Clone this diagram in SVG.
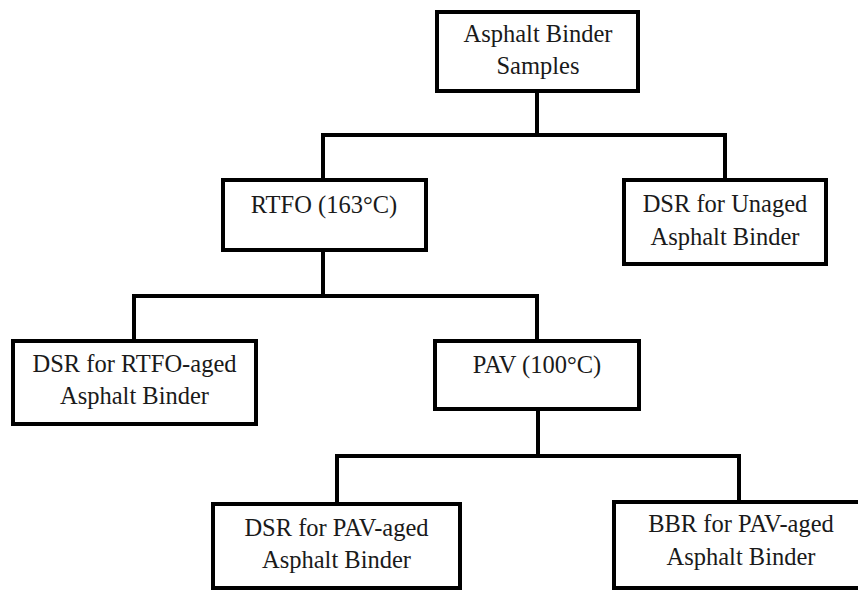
<svg xmlns="http://www.w3.org/2000/svg" width="858" height="590" viewBox="0 0 858 590">
<style>
.box{fill:#fff;stroke:#000;stroke-width:4}
.ln{fill:none;stroke:#000;stroke-width:4;stroke-linejoin:miter;stroke-linecap:square}
.t{font-family:'Liberation Serif','Times New Roman',Tinos,'DejaVu Serif',serif;font-size:24.5px;fill:#1a1a1a;text-anchor:middle}
</style>
<rect width="858" height="590" fill="#fff"/>
<g id="connectors">
<path class="ln" d="M537,92 V135 M323,179 V135 H725 V179"/>
<path class="ln" d="M323,251 V296 M134,340 V296 H537 V340"/>
<path class="ln" d="M538,410 V456 M337,502 V456 H739 V502"/>
</g>
<g id="n-samples">
<rect class="box" x="437" y="12" width="201" height="79"/>
<text class="t" x="538" y="42">Asphalt Binder</text>
<text class="t" x="538" y="74">Samples</text>
</g>
<g id="n-rtfo">
<rect class="box" x="223" y="180" width="203" height="70"/>
<text class="t" x="324" y="213">RTFO (163°C)</text>
</g>
<g id="n-dsr-unaged">
<rect class="box" x="624" y="180" width="202" height="84"/>
<text class="t" x="725" y="212">DSR for Unaged</text>
<text class="t" x="725" y="245">Asphalt Binder</text>
</g>
<g id="n-dsr-rtfo">
<rect class="box" x="13" y="341" width="243" height="83"/>
<text class="t" x="134.5" y="372">DSR for RTFO-aged</text>
<text class="t" x="134.5" y="404">Asphalt Binder</text>
</g>
<g id="n-pav">
<rect class="box" x="435" y="341" width="204" height="68"/>
<text class="t" x="537" y="373">PAV (100°C)</text>
</g>
<g id="n-dsr-pav">
<rect class="box" x="213" y="504" width="247" height="84"/>
<text class="t" x="336.5" y="536">DSR for PAV-aged</text>
<text class="t" x="336.5" y="568">Asphalt Binder</text>
</g>
<g id="n-bbr-pav">
<rect class="box" x="614" y="502" width="254" height="86"/>
<text class="t" x="741" y="532">BBR for PAV-aged</text>
<text class="t" x="741" y="565">Asphalt Binder</text>
</g>
</svg>
